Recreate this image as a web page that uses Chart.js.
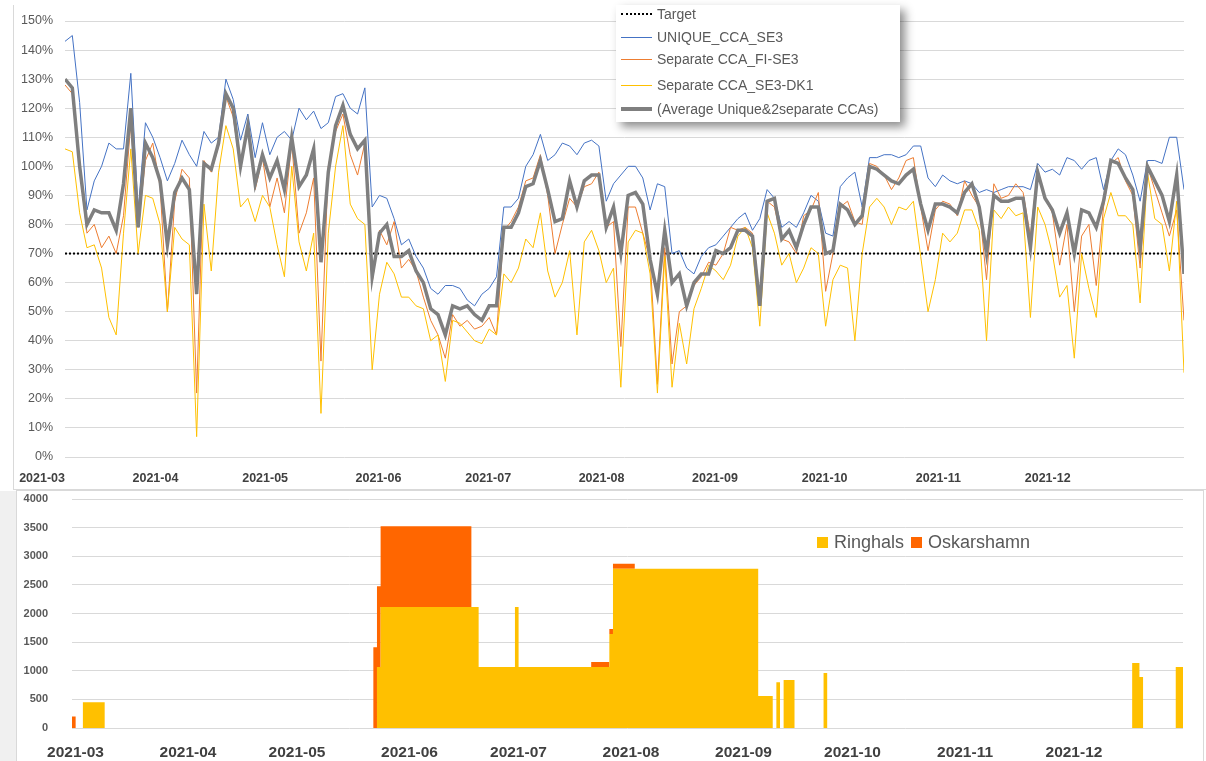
<!DOCTYPE html>
<html>
<head>
<meta charset="utf-8">
<script src="https://cdn.jsdelivr.net/npm/chart.js@4.4.0/dist/chart.umd.min.js"></script>
<style>
  html, body { margin: 0; padding: 0; background: #fff; }
  body { width: 1206px; height: 761px; position: relative; overflow: hidden; font-family: "Liberation Sans", Arial, sans-serif; }
  .frameTop { position: absolute; left: 13px; top: 5px; width: 1193px; height: 485px; border-left: 1px solid #d9d9d9; border-bottom: 1px solid #d9d9d9; box-sizing: border-box; }
  .strip { position: absolute; left: 0; top: 491px; width: 16px; height: 270px; background: #f0f0f0; }
  .frameBottom { position: absolute; left: 16px; top: 490px; width: 1188px; height: 271px; border: 1px solid #d9d9d9; border-bottom: none; box-sizing: border-box; }
  canvas { position: absolute; }
  #topChart { left: 13px; top: 0; }
  #bottomChart { left: 17px; top: 490px; }
  #legendTop { position: absolute; left: 616px; top: 5px; width: 284px; height: 117px; background: #fff; box-shadow: 5px 5px 9px rgba(0,0,0,0.45); color: #595959; font-size: 14px; }
  #legendTop .row { position: absolute; left: 0; height: 20px; line-height: 20px; white-space: nowrap; }
  #legendTop .sample { position: absolute; left: 5px; width: 31px; top: 10px; }
  #legendTop .txt { position: absolute; left: 41px; top: 0; }
  #legendBottom { position: absolute; left: 817px; top: 530px; height: 24px; color: #595959; font-size: 18px; line-height: 24px; white-space: nowrap; }
  #legendBottom .sq { display: inline-block; width: 11px; height: 11px; vertical-align: 0px; margin-right: 6px; }
</style>
</head>
<body>
<div class="frameTop"></div>
<div class="strip"></div>
<div class="frameBottom"></div>
<canvas id="topChart" width="1193" height="490"></canvas>
<canvas id="bottomChart" width="1186" height="271"></canvas>

<div id="legendTop">
  <div class="row" style="top:-1px"><span class="sample" style="border-top:2px dotted #000;top:9px"></span><span class="txt">Target</span></div>
  <div class="row" style="top:22px"><span class="sample" style="border-top:1px solid #4472C4"></span><span class="txt">UNIQUE_CCA_SE3</span></div>
  <div class="row" style="top:44px"><span class="sample" style="border-top:1px solid #ED7D31"></span><span class="txt">Separate CCA_FI-SE3</span></div>
  <div class="row" style="top:70px"><span class="sample" style="border-top:1px solid #FFC000"></span><span class="txt">Separate CCA_SE3-DK1</span></div>
  <div class="row" style="top:94px"><span class="sample" style="border-top:4px solid #7F7F7F;top:8px"></span><span class="txt">(Average Unique&amp;2separate CCAs)</span></div>
</div>

<div id="legendBottom"><span class="sq" style="background:#FFC000"></span>Ringhals <span class="sq" style="background:#FF6600;margin-left:2px"></span>Oskarshamn</div>

<script>
// x positions are days since 2021-03-01
const monthTicks = [0, 31, 61, 92, 122, 153, 184, 214, 245, 275];
const monthLabels = ['2021-03', '2021-04', '2021-05', '2021-06', '2021-07', '2021-08', '2021-09', '2021-10', '2021-11', '2021-12'];

// top chart: sampled every second day, values in %
const sampleDays = Array.from({ length: 154 }, (_, i) => i * 2);

const uniqueSE3 = [
  143, 145, 122, 85, 95, 100, 108, 106, 106, 132,
  85, 115, 110, 103, 95, 101, 109, 104, 100, 112,
  108, 110, 130, 123, 109, 118, 103, 115, 104, 110,
  112, 109, 120, 116, 119, 113, 115, 124, 125, 120,
  118, 127, 86, 90, 89, 82, 73, 75, 69, 65,
  58, 56, 59, 59, 58, 54, 52, 56, 58, 62,
  86, 86, 89, 100, 104, 111, 102, 104, 108, 107,
  104, 108, 109, 107, 88, 94, 97, 100, 100, 96,
  85, 94, 93, 70, 71, 65, 63, 69, 72, 73,
  76, 79, 82, 84, 78, 82, 92, 89, 79, 81,
  79, 84, 90, 88, 77, 76, 93, 96, 98, 86,
  103, 103, 104, 104, 103, 104, 107, 107, 96, 93,
  97, 95, 94, 95, 94, 91, 92, 91, 92, 93,
  93, 93, 92, 101, 98, 99, 97, 103, 102, 99,
  102, 103, 92, 102, 106, 104, 97, 88, 102, 102,
  101, 110, 110, 92
];
const separateFiSE3 = [
  128, 125, 100, 77, 80, 72, 76, 70, 83, 115,
  79, 102, 108, 93, 50, 88, 99, 96, 22, 102,
  98, 107, 124, 117, 99, 115, 92, 103, 86, 96,
  84, 108, 77, 84, 96, 33, 100, 112, 118, 104,
  97, 108, 60, 78, 73, 81, 65, 68, 64, 55,
  47, 42, 34, 49, 45, 47, 44, 45, 48, 42,
  78, 81, 86, 95, 96, 104, 90, 70, 80, 89,
  86, 93, 94, 98, 79, 81, 38, 86, 86, 77,
  68, 25, 72, 32, 50, 52, 59, 62, 67, 66,
  70, 79, 78, 79, 77, 55, 88, 86, 75, 74,
  70, 83, 85, 91, 57, 70, 86, 88, 81, 80,
  101, 100, 97, 92, 96, 102, 103, 86, 71, 85,
  88, 87, 83, 95, 90, 86, 61, 94, 89, 90,
  94, 91, 76, 99, 89, 84, 66, 80, 50, 76,
  80, 59, 86, 101, 103, 95, 90, 65, 100, 92,
  84, 76, 85, 47
];
const separateSE3DK1 = [
  106, 105, 84, 72, 73, 65, 48, 42, 77, 106,
  70, 90, 89, 80, 50, 79, 75, 73, 7, 87,
  64, 98, 114, 106, 86, 89, 81, 90, 86, 73,
  62, 100, 74, 64, 77, 15, 77, 100, 114, 87,
  82, 80, 30, 56, 67, 63, 55, 55, 52, 51,
  40, 42, 26, 47, 46, 43, 40, 39, 44, 42,
  63, 60, 65, 75, 72, 84, 64, 55, 60, 71,
  42, 74, 78, 71, 60, 65, 24, 74, 78, 77,
  63, 22, 69, 24, 46, 32, 51, 58, 66, 64,
  61, 66, 76, 79, 72, 45, 84, 77, 66, 70,
  60, 65, 72, 70, 45, 61, 66, 65, 40, 70,
  86, 89, 86, 80, 86, 85, 88, 69, 50, 61,
  77, 74, 77, 85, 85, 78, 40, 85, 82, 86,
  83, 84, 48, 86, 80, 70, 55, 59, 34, 70,
  58, 48, 82, 91, 83, 83, 80, 53, 98, 82,
  80, 64, 88, 29
];
const averageCCA = [
  130, 127, 100, 80, 85, 84, 84, 78, 94, 120,
  79, 108, 103, 95, 73, 91, 96, 92, 56, 101,
  99, 108, 125, 120, 100, 114, 94, 104, 96, 102,
  92, 110, 93, 97, 106, 67, 98, 114, 121, 111,
  106, 109, 62, 77, 80, 69, 69, 71, 64, 60,
  51, 49, 42, 52, 51, 52, 49, 47, 52, 52,
  79, 79, 84, 93, 94, 102, 92, 81, 82, 95,
  86, 95, 97, 97, 79, 86, 70, 90, 91, 87,
  68, 56, 78, 60, 63, 52, 60, 63, 63, 71,
  70, 72, 78, 78, 76, 52, 88, 89, 75, 78,
  72, 80, 86, 86, 70, 71, 87, 85, 80, 83,
  100, 99, 97, 95, 94, 97, 99, 87, 78, 87,
  87, 86, 84, 91, 94, 86, 70, 90, 88, 88,
  89, 89, 72, 98, 89, 85, 77, 84, 70, 85,
  84, 79, 88, 102, 101, 96, 92, 72, 100, 95,
  90, 81, 97, 63
];
const targetDays = [0, 306];
const targetLevel = [70, 70];

// bottom chart: unavailable capacity (MW), value holds from each day until the next one
const stepDays   = [0, 1, 3, 9, 83, 84, 85, 110, 112, 122, 123, 143, 148, 149, 155, 189, 193, 194, 195, 196, 199, 207, 208, 292, 294, 295, 304, 306];
const ringhals   = [0, 0, 450, 0, 0, 1065, 2115, 2115, 1065, 2115, 1065, 1065, 1640, 2780, 2780, 560, 0, 800, 0, 840, 0, 960, 0, 1135, 890, 0, 1065, 1065];
const oskarshamn = [200, 0, 0, 0, 1410, 1410, 1410, 0, 0, 0, 0, 90, 90, 90, 0, 0, 0, 0, 0, 0, 0, 0, 0, 0, 0, 0, 0, 0];

const pts = (xs, ys) => xs.map((x, i) => ({ x: x, y: ys[i] }));

const monthAxis = (font, color, align, padding, height, offset) => ({
  type: 'linear',
  min: 0,
  max: 306,
  grid: { display: false },
  border: { display: false },
  afterBuildTicks: s => { s.ticks = monthTicks.map(v => ({ value: v })); },
  afterFit: s => { s.height = height; s.paddingLeft = 0; s.paddingRight = 0; },
  ticks: {
    autoSkip: false,
    maxRotation: 0,
    align: align,
    padding: padding,
    labelOffset: offset,
    font: font,
    color: color,
    callback: (v, i) => monthLabels[i]
  }
});

new Chart(document.getElementById('topChart'), {
  type: 'line',
  data: {
    datasets: [
      { label: 'Target', data: pts(targetDays, targetLevel), borderColor: '#000', borderWidth: 2, borderDash: [2, 2], order: 4 },
      { label: 'UNIQUE_CCA_SE3', data: pts(sampleDays, uniqueSE3), borderColor: '#4472C4', borderWidth: 1, order: 3 },
      { label: 'Separate CCA_FI-SE3', data: pts(sampleDays, separateFiSE3), borderColor: '#ED7D31', borderWidth: 1, order: 2 },
      { label: 'Separate CCA_SE3-DK1', data: pts(sampleDays, separateSE3DK1), borderColor: '#FFC000', borderWidth: 1, order: 1 },
      { label: '(Average Unique&2separate CCAs)', data: pts(sampleDays, averageCCA), borderColor: '#7F7F7F', borderWidth: 3.5, order: 0 }
    ]
  },
  options: {
    responsive: false,
    animation: false,
    events: [],
    layout: { padding: { top: 21, right: 22, left: 0, bottom: 0 } },
    elements: { point: { radius: 0 }, line: { tension: 0, fill: false } },
    plugins: { legend: { display: false }, tooltip: { enabled: false } },
    scales: {
      x: monthAxis({ family: 'Liberation Sans', size: 12.5, weight: 'bold' }, '#404040', 'end', 6, 33, 0),
      y: {
        min: 0,
        max: 150,
        grid: { color: '#d9d9d9', lineWidth: 1, drawTicks: false },
        border: { display: false },
        afterFit: s => { s.width = 52; s.paddingTop = 0; s.paddingBottom = 0; },
        ticks: {
          stepSize: 10,
          padding: 12,
          font: { family: 'Liberation Sans', size: 12.5 },
          color: '#595959',
          callback: v => v + '%'
        }
      }
    }
  }
});

new Chart(document.getElementById('bottomChart'), {
  type: 'line',
  data: {
    datasets: [
      { label: 'Ringhals', data: pts(stepDays, ringhals), stepped: 'before', fill: 'origin', backgroundColor: '#FFC000', borderColor: 'rgba(0,0,0,0)', borderWidth: 0 },
      { label: 'Oskarshamn', data: pts(stepDays, oskarshamn), stepped: 'before', fill: '-1', backgroundColor: '#FF6600', borderColor: 'rgba(0,0,0,0)', borderWidth: 0 }
    ]
  },
  options: {
    responsive: false,
    animation: false,
    events: [],
    layout: { padding: { top: 9, right: 20, left: 0, bottom: 0 } },
    elements: { point: { radius: 0 }, line: { tension: 0 } },
    plugins: { legend: { display: false }, tooltip: { enabled: false } },
    scales: {
      x: monthAxis({ family: 'Liberation Sans', size: 15.5, weight: 'bold' }, '#404040', 'center', 7, 33, 3.5),
      y: {
        stacked: true,
        min: 0,
        max: 4000,
        grid: { color: '#d9d9d9', lineWidth: 1, drawTicks: false },
        border: { display: false },
        afterFit: s => { s.width = 55; s.paddingTop = 0; s.paddingBottom = 0; },
        ticks: {
          stepSize: 500,
          padding: 24,
          font: { family: 'Liberation Sans', size: 11, weight: 'bold' },
          color: '#595959',
          callback: v => String(v)
        }
      }
    }
  }
});
</script>
</body>
</html>
